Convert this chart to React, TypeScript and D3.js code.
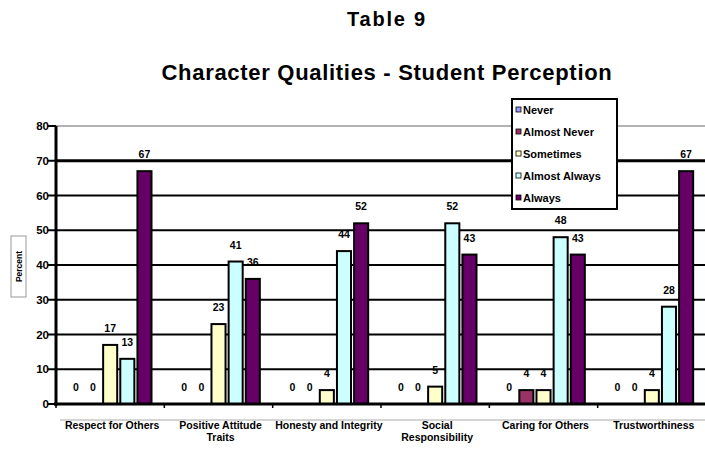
import React from "react";
import * as d3 from "d3";

const categories = [
  ["Respect for Others"],
  ["Positive Attitude", "Traits"],
  ["Honesty and Integrity"],
  ["Social", "Responsibility"],
  ["Caring for Others"],
  ["Trustworthiness"],
];
const seriesNames = ["Never", "Almost Never", "Sometimes", "Almost Always", "Always"];
const seriesColors = ["#9999FF", "#993366", "#FFFFCC", "#CCFFFF", "#660066"];
const never = [0, 0, 0, 0, 0, 0];
const almostNever = [0, 0, 0, 0, 4, 0];
const sometimes = [17, 23, 4, 5, 4, 4];
const almostAlways = [13, 41, 44, 52, 48, 28];
const always = [67, 36, 52, 43, 43, 67];
const yTicks = [0, 10, 20, 30, 40, 50, 60, 70, 80];

const W = 705;
const H = 452;
const left = 56;
const right = 706;
const top = 126;
const bottom = 404;

export default function App() {
  const values = [never, almostNever, sometimes, almostAlways, always];
  const catIdx = categories.map((_, i) => i);
  const x0 = d3.scaleBand<number>().domain(catIdx).range([left, right]).paddingInner(0.18).paddingOuter(0.09);
  const x1 = d3.scaleBand<number>().domain(seriesNames.map((_, i) => i)).range([0, x0.bandwidth()]).padding(0.18);
  const y = d3.scaleLinear().domain([0, 80]).range([bottom, top]);
  const font = "Arial, 'Liberation Sans', sans-serif";
  const band = (right - left) / categories.length;

  return (
    <svg width={W} height={H} style={{ position: "absolute", left: 0, top: 0, background: "#fff" }} fontFamily={font}>
      <rect x={0} y={0} width={W} height={H} fill="#fff" />
      <text x={387} y={26} textAnchor="middle" fontWeight="bold" fontSize={20} letterSpacing={1.8}>Table 9</text>
      <text x={387} y={80} textAnchor="middle" fontWeight="bold" fontSize={22} letterSpacing={0.7}>Character Qualities - Student Perception</text>

      {/* plot border lines */}
      <line x1={left} x2={W} y1={top} y2={top} stroke="#999" strokeWidth={1.5} />
      <line x1={60} x2={W} y1={420} y2={420} stroke="#aaa" strokeWidth={1} />

      {/* gridlines */}
      {yTicks.slice(1, -1).map((t) => (
        <line key={t} x1={left} x2={W} y1={y(t)} y2={y(t)} stroke="#000" strokeWidth={t === 70 ? 3 : 1.8} />
      ))}

      {/* bars */}
      {values.map((vals, s) =>
        vals.map((v, c) => {
          const bx = (x0(c) as number) + (x1(s) as number);
          const bw = x1.bandwidth();
          return v > 0 ? (
            <rect key={`${s}-${c}`} x={bx} y={y(v)} width={bw} height={y(0) - y(v)} fill={seriesColors[s]} stroke="#000" strokeWidth={2} />
          ) : null;
        })
      )}

      {/* data labels */}
      {values.map((vals, s) =>
        vals.map((v, c) => {
          const bx = (x0(c) as number) + (x1(s) as number) + x1.bandwidth() / 2;
          return (
            <text key={`l${s}-${c}`} x={bx} y={y(v) - 13} textAnchor="middle" fontWeight="bold" fontSize={10.5}>{v}</text>
          );
        })
      )}

      {/* axes */}
      <line x1={left} x2={left} y1={top} y2={bottom + 2} stroke="#000" strokeWidth={3} />
      <line x1={left - 2} x2={W} y1={bottom} y2={bottom} stroke="#000" strokeWidth={3} />
      {yTicks.map((t) => (
        <g key={`t${t}`}>
          <line x1={left - 8} x2={left} y1={y(t)} y2={y(t)} stroke="#000" strokeWidth={2} />
          <text x={left - 7} y={y(t) + 4} textAnchor="end" fontWeight="bold" fontSize={11.5}>{t}</text>
        </g>
      ))}
      {catIdx.map((c) => (
        <line key={`xt${c}`} x1={left + band * c} x2={left + band * c} y1={bottom} y2={bottom + 4} stroke="#000" strokeWidth={1.5} />
      ))}

      {/* category labels */}
      {categories.map((lines, c) => (
        <text key={`c${c}`} textAnchor="middle" fontWeight="bold" fontSize={10.5}>
          {lines.map((ln, i) => (
            <tspan key={i} x={left + band * (c + 0.5) + 2} y={429 + i * 12}>{ln}</tspan>
          ))}
        </text>
      ))}

      {/* y label */}
      <rect x={11} y={236} width={15} height={61} fill="#fff" stroke="#999" strokeWidth={1} />
      <text transform="translate(21.5,266.5) rotate(-90)" textAnchor="middle" fontSize={8.5} fontWeight="bold">Percent</text>

      {/* legend */}
      <rect x={512} y={99} width={105} height={110} fill="#fff" stroke="#000" strokeWidth={2} />
      {seriesNames.map((n, i) => (
        <g key={`lg${i}`}>
          <rect x={516} y={107 + i * 22} width={5} height={5} fill={seriesColors[i]} stroke="#000" strokeWidth={0.8} />
          <text x={523} y={114 + i * 22} fontWeight="bold" fontSize={11}>{n}</text>
        </g>
      ))}
    </svg>
  );
}
